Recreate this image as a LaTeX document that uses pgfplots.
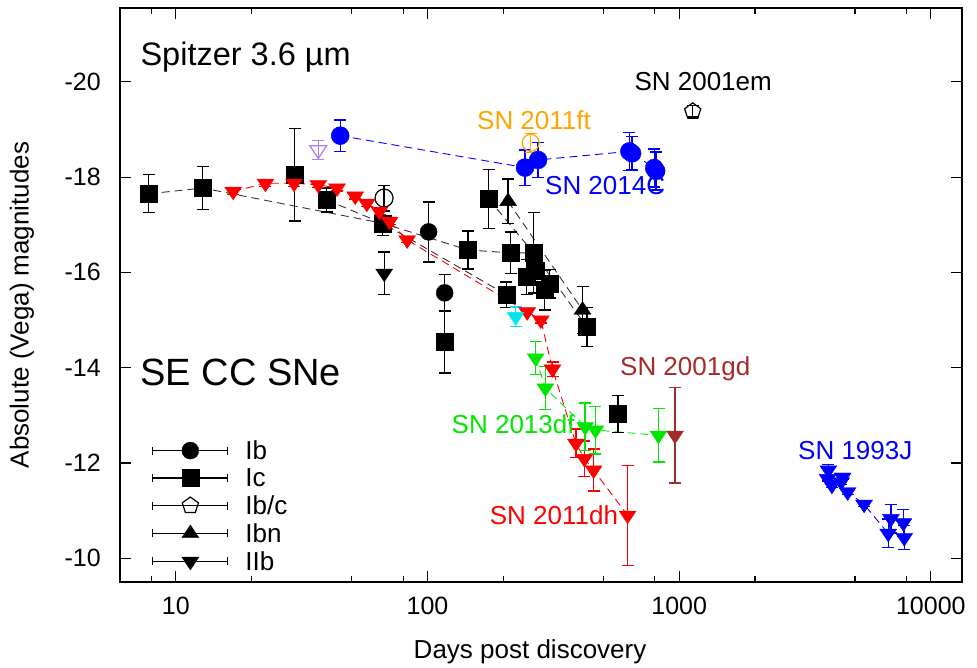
\documentclass[border=0pt]{standalone}
\usepackage{fontspec}
\setmainfont{Liberation Sans}
\usepackage{pgfplots}
\pgfplotsset{compat=1.18}
\definecolor{snorange}{RGB}{255,165,0}
\definecolor{snbrown}{RGB}{165,42,42}
\definecolor{sngreen}{RGB}{0,230,0}
\definecolor{snpurple}{RGB}{175,125,245}
\definecolor{sncyan}{RGB}{0,230,240}
\begin{document}
\begin{tikzpicture}
\begin{axis}[
  scale only axis, width=842pt, height=574pt,
  xmode=log, xmin=6, xmax=13300,
  ymin=-21.55, ymax=-9.5, y dir=reverse,
  axis line style={line width=1.6pt},
  tick style={line width=1.2pt, black},
  major tick length=11pt, minor tick length=6pt,
  tick align=inside,
  xtick={10,100,1000,10000}, xticklabels={10,100,1000,10000},
  minor xtick={8,20,50,80,200,500,800,2000,5000,8000},
  ytick={-20,-18,-16,-14,-12,-10}, yticklabels={-20,-18,-16,-14,-12,-10},
  ticklabel style={font=\fontsize{25}{30}\selectfont},
  xticklabel style={inner sep=0pt, yshift=-15pt},
  yticklabel style={inner sep=0pt, xshift=-19pt},
  xlabel={Days post discovery}, ylabel={Absolute (Vega) magnitudes},
  label style={font=\fontsize{26}{31}\selectfont},
  xlabel style={at={(axis description cs:0.487,0)}, anchor=center, yshift=-70pt},
  ylabel style={at={(axis description cs:-0.1164,0.4826)}, anchor=center, rotate=0},
  clip=false,
  error bars/error bar style={solid, line width=1.3pt},
  error bars/error mark options={line width=1.3pt, mark size=6pt, rotate=90},
  legend image code/.code={
    \draw[black, solid, line width=1.3pt] (0pt,0pt) -- (75pt,0pt);
    \draw[black, solid, line width=1.3pt] (0pt,-4pt) -- (0pt,4pt) (75pt,-4pt) -- (75pt,4pt);
    \draw[#1] plot coordinates {(37.5pt,0pt)};
  },
  legend style={draw=none, fill=none, at={(axis description cs:0.038,0.247)}, anchor=north west,
    inner sep=0pt, font=\fontsize{26}{30}\selectfont, row sep=7.6pt,
    nodes={inner sep=0pt}},
  legend cell align=left,
  /tikz/every odd column/.append style={column sep=17pt},
  dline/.style={forget plot, mark=none, line width=0.9pt, dash pattern=on 8pt off 5pt},
  dmarks/.style={forget plot, only marks, error bars/y dir=both, error bars/y explicit},
]
% ---------------- connecting dashed lines ----------------
\addplot[dline, black!80] coordinates {(7.8,-17.65) (12.8,-17.77) (66.4,-17.03) (145,-16.47) (214,-16.41) (264,-16.41)};
\addplot[dline, black!80] coordinates {(39.7,-17.52) (66.4,-17.03) (206,-15.53)};
\addplot[dline, black!80] coordinates {(175,-17.54) (264,-16.41) (430,-14.85)};
\addplot[dline, black!80] coordinates {(209,-17.49) (413,-15.21)};
\addplot[dline, red] coordinates {(16.9,-17.70) (22.7,-17.87) (29.5,-17.87) (36.8,-17.84) (43.7,-17.77) (51.6,-17.60) (57.4,-17.45) (64.5,-17.28) (70.7,-17.07) (83,-16.68) (249,-15.17) (282,-15.0) (314,-13.97) (389,-12.41) (420,-12.09) (457,-11.85) (624,-10.90)};
\addplot[dline, sngreen] coordinates {(269,-14.2) (294,-13.57) (423,-12.76) (465,-12.69) (828,-12.58)};
\addplot[dline, blue] coordinates {(45,-18.87) (244,-18.2) (275,-18.36) (634,-18.54) (796,-18.19)};
\addplot[dline, blue] coordinates {(3890,-11.67) (3917,-11.85) (4045,-11.53) (4400,-11.6) (4460,-11.7) (4670,-11.39) (5430,-11.13) (6770,-10.52) (6940,-10.83) (7780,-10.74) (7840,-10.43)};
% ---------------- Ic squares ----------------
\addplot[dmarks, black, mark=square*, mark size=8.5pt] coordinates {
 (7.8,-17.65) +- (0,0.4)
 (12.8,-17.77) +- (0,0.45)
 (29.7,-18.05) +- (0,0.97)
 (39.7,-17.52) +- (0,0.25)
 (66.4,-17.03) +- (0,0.25)
 (145,-16.47) +- (0,0.4)
 (175,-17.54) +- (0,0.62)
 (214,-16.41) +- (0,0.44)
 (206,-15.53) +- (0,0.27)
 (264,-16.41) +- (0,0.84)
 (248,-15.9) +- (0,0.37)
 (269,-16.03) +- (0,0.3)
 (292,-15.63) +- (0,0.42)
 (306,-15.76) +- (0,0.3)
 (430,-14.85) +- (0,0.41)
 (117,-14.54) +- (0,0.65)
 (571,-13.03) +- (0,0.39)
};
% ---------------- Ib circles ----------------
\addplot[dmarks, black, mark=*, mark size=8.5pt] coordinates {
 (101,-16.85) +- (0,0.63)
 (117,-15.57) +- (0,0.38)
};
\addplot[dmarks, black, mark=o, mark size=9pt, mark options={line width=1.2pt}] coordinates {(67.2,-17.56) +- (0,0.27)};
% ---------------- Ib/c pentagon ----------------
\addplot[dmarks, black, mark=pentagon, mark size=8.5pt, mark options={line width=1.2pt}] coordinates {(1132,-19.38) +- (0,0.12)};
% ---------------- Ibn triangles ----------------
\addplot[dmarks, black, mark=triangle*, mark size=8.5pt, mark options={xscale=1.15}] coordinates {
 (209,-17.49) +- (0,0.47)
 (413,-15.21) +- (0,0.5)
};
% ---------------- IIb black ----------------
\addplot[dmarks, black, mark=triangle*, mark size=8.5pt, mark options={rotate=180, xscale=1.15}] coordinates {(67.3,-15.98) +- (0,0.45)};
% ---------------- SN 2011dh ----------------
\addplot[dmarks, red, mark=triangle*, mark size=8.5pt, mark options={rotate=180, xscale=1.15}] coordinates {
 (16.9,-17.70) +- (0,0.06) (22.7,-17.87) +- (0,0.06) (29.5,-17.87) +- (0,0.06) (36.8,-17.84) +- (0,0.06)
 (43.7,-17.77) +- (0,0.06) (51.6,-17.60) +- (0,0.06) (57.4,-17.45) +- (0,0.06) (64.5,-17.28) +- (0,0.06)
 (70.7,-17.07) +- (0,0.06) (83,-16.68) +- (0,0.06) (249,-15.17) +- (0,0.06) (282,-15.0) +- (0,0.06)
 (314,-13.97) +- (0,0.15) (389,-12.41) +- (0,0.3) (420,-12.09) +- (0,0.37) (457,-11.85) +- (0,0.44)
 (624,-10.90) +- (0,1.05)
};
\addplot[dmarks, sncyan, mark=triangle*, mark size=8.5pt, mark options={rotate=180, xscale=1.15}] coordinates {(224,-15.07) +- (0,0.2)};
% ---------------- SN 2013df ----------------
\addplot[dmarks, sngreen, mark=triangle*, mark size=8.5pt, mark options={rotate=180, xscale=1.15}] coordinates {
 (269,-14.2) +- (0,0.35) (294,-13.57) +- (0,0.45) (423,-12.76) +- (0,0.5) (465,-12.69) +- (0,0.5) (828,-12.58) +- (0,0.56)
};
\addplot[dmarks, snbrown, mark=triangle*, mark size=8.5pt, mark options={rotate=180, xscale=1.15}] coordinates {(963,-12.58) +- (0,1.0)};
% ---------------- SN 2014C ----------------
\addplot[dmarks, blue, mark=*, mark size=9pt] coordinates {
 (45,-18.87) +- (0,0.33) (244,-18.2) +- (0,0.37) (275,-18.36) +- (0,0.37)
 (634,-18.54) +- (0,0.4) (650,-18.5) +- (0,0.35) (796,-18.19) +- (0,0.4) (810,-18.13) +- (0,0.4)
};
\addplot[dmarks, snorange, mark=o, mark size=8.5pt, mark options={line width=1.2pt}] coordinates {(257,-18.72) +- (0,0.2)};
\addplot[dmarks, snpurple, mark=triangle, mark size=8.5pt, mark options={rotate=180, xscale=1.15, line width=1.2pt}] coordinates {(36.8,-18.57) +- (0,0.2)};
% ---------------- SN 1993J ----------------
\addplot[dmarks, blue, mark=triangle*, mark size=8.5pt, mark options={rotate=180, xscale=1.15}] coordinates {
 (3917,-11.85) +- (0,0.12) (3890,-11.67) +- (0,0.05) (4045,-11.53) +- (0,0.05) (4460,-11.7) +- (0,0.05)
 (4400,-11.6) +- (0,0.05) (4670,-11.39) +- (0,0.05) (5430,-11.13) +- (0,0.05) (6940,-10.83) +- (0,0.3)
 (6770,-10.52) +- (0,0.3) (7780,-10.74) +- (0,0.28) (7840,-10.43) +- (0,0.25)
};
% ---------------- legend ----------------
\addlegendimage{only marks, black, mark=*, mark size=8.5pt}
\addlegendentry{Ib}
\addlegendimage{only marks, black, mark=square*, mark size=8.5pt}
\addlegendentry{Ic}
\addlegendimage{only marks, black, mark=pentagon, mark size=8.5pt, mark options={line width=1.2pt}}
\addlegendentry{Ib/c}
\addlegendimage{only marks, black, mark=triangle*, mark size=8.5pt, mark options={xscale=1.15}}
\addlegendentry{Ibn}
\addlegendimage{only marks, black, mark=triangle*, mark size=8.5pt, mark options={rotate=180, xscale=1.15}}
\addlegendentry{IIb}
% ---------------- annotations ----------------
\node[anchor=west, font=\fontsize{32.5}{38}\selectfont] at (axis description cs:0.0202,0.9146) {Spitzer 3.6 µm};
\node[anchor=west, font=\fontsize{38}{44}\selectfont] at (axis description cs:0.0202,0.366) {SE CC SNe};
\node[black, font=\fontsize{26}{30}\selectfont] at (axis cs:1246,-20.0) {SN 2001em};
\node[snorange, font=\fontsize{26}{30}\selectfont] at (axis cs:265,-19.2) {SN 2011ft};
\node[blue, font=\fontsize{26}{30}\selectfont] at (axis cs:508,-17.82) {SN 2014C};
\node[snbrown, font=\fontsize{26}{30}\selectfont] at (axis cs:1057,-13.97) {SN 2001gd};
\node[sngreen, font=\fontsize{26}{30}\selectfont] at (axis cs:219,-12.82) {SN 2013df};
\node[red, font=\fontsize{26}{30}\selectfont] at (axis cs:318,-10.9) {SN 2011dh};
\node[blue, font=\fontsize{26}{30}\selectfont] at (axis cs:5010,-12.27) {SN 1993J};
\end{axis}
\pgfresetboundingbox
\path[use as bounding box] ([shift={(-120pt,-86pt)}]current axis.south west) rectangle ([shift={(15pt,8pt)}]current axis.north east);
\end{tikzpicture}
\end{document}
